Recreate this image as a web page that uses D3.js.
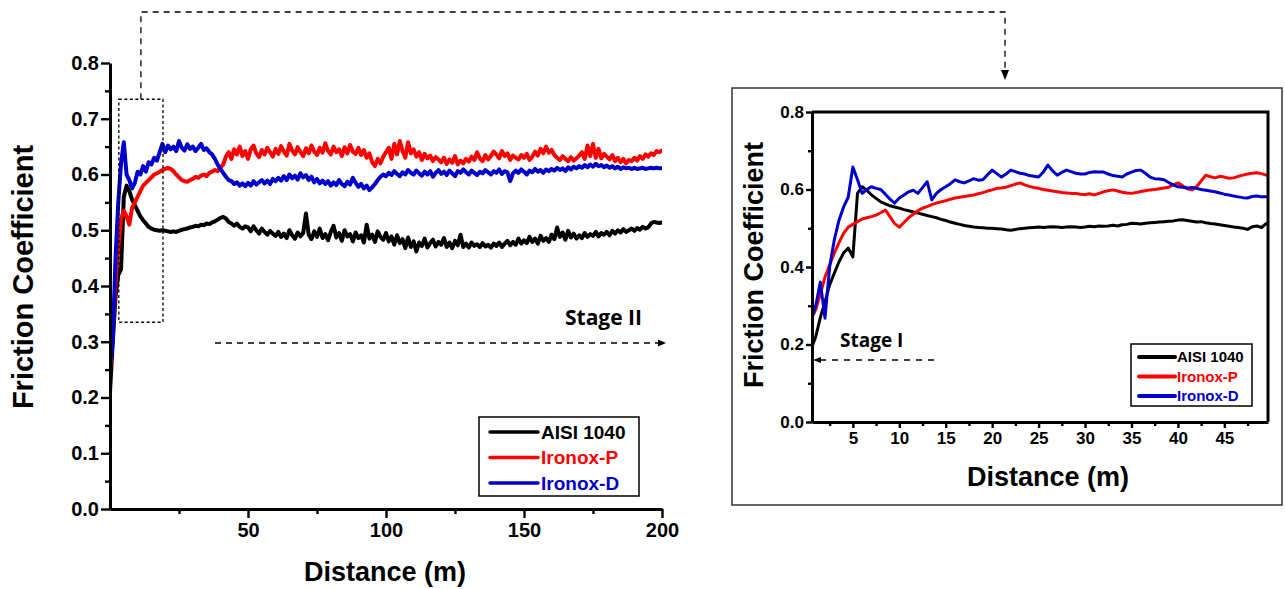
<!DOCTYPE html>
<html>
<head>
<meta charset="utf-8">
<script src="https://cdn.jsdelivr.net/npm/d3@7"></script>
<style>
  html, body { margin: 0; padding: 0; background: #fff; }
  svg { display: block; }
</style>
</head>
<body>
<svg id="fig" width="1285" height="589"></svg>
<script>
// ---- series metadata ----
const seriesNames = ["AISI 1040", "Ironox-P", "Ironox-D"];
const seriesColors = ["#000000", "#ff0000", "#0000cc"];

// ---- full test, friction coefficient every 1 m from 0 to 200 m ----
const mainDist = d3.range(0, 201, 1);
const mainAISI = [
  0.21, 0.30, 0.38, 0.42, 0.43, 0.56, 0.58, 0.57, 0.555, 0.545,
  0.535, 0.525, 0.518, 0.512, 0.506, 0.503, 0.501, 0.500, 0.499, 0.500,
  0.499, 0.498, 0.497, 0.498, 0.497, 0.499, 0.501, 0.502, 0.503, 0.505,
  0.506, 0.508, 0.507, 0.510, 0.509, 0.512, 0.511, 0.514, 0.516, 0.519,
  0.522, 0.524, 0.521, 0.515, 0.512, 0.508, 0.512, 0.506, 0.503, 0.507,
  0.505, 0.498, 0.507, 0.500, 0.494, 0.503, 0.497, 0.492, 0.499, 0.494,
  0.490, 0.497, 0.488, 0.494, 0.486, 0.500, 0.491, 0.485, 0.496, 0.489,
  0.495, 0.530, 0.492, 0.484, 0.498, 0.488, 0.503, 0.486, 0.493, 0.482,
  0.497, 0.508, 0.487, 0.495, 0.481, 0.500, 0.489, 0.493, 0.480, 0.496,
  0.486, 0.491, 0.478, 0.510, 0.485, 0.492, 0.479, 0.498, 0.488, 0.483,
  0.495, 0.480, 0.489, 0.474, 0.491, 0.477, 0.484, 0.468, 0.487, 0.470,
  0.480, 0.462, 0.478, 0.472, 0.485, 0.469, 0.477, 0.483, 0.471, 0.479,
  0.474, 0.486, 0.470, 0.478, 0.468, 0.481, 0.473, 0.492, 0.470, 0.476,
  0.469, 0.478, 0.472, 0.475, 0.470, 0.477, 0.471, 0.474, 0.469, 0.476,
  0.472, 0.478, 0.470, 0.476, 0.481, 0.473, 0.479, 0.474, 0.485, 0.476,
  0.482, 0.477, 0.488, 0.479, 0.485, 0.476, 0.490, 0.481, 0.486, 0.479,
  0.492, 0.484, 0.505, 0.488, 0.496, 0.483, 0.499, 0.487, 0.494, 0.485,
  0.491, 0.486, 0.495, 0.488, 0.493, 0.490, 0.497, 0.489, 0.495, 0.492,
  0.497, 0.491, 0.499, 0.494, 0.500, 0.496, 0.502, 0.497, 0.500, 0.503,
  0.499, 0.504, 0.501, 0.506, 0.503, 0.505, 0.512, 0.515, 0.514, 0.513,
  0.514
];
const mainIronoxP = [
  0.25, 0.32, 0.40, 0.47, 0.52, 0.535, 0.525, 0.51, 0.54, 0.55,
  0.56, 0.57, 0.58, 0.585, 0.59, 0.595, 0.60, 0.602, 0.605, 0.608,
  0.61, 0.612, 0.61, 0.606, 0.60, 0.595, 0.59, 0.588, 0.587, 0.59,
  0.592, 0.596, 0.594, 0.598, 0.600, 0.597, 0.603, 0.605, 0.608, 0.606,
  0.612, 0.618, 0.632, 0.640, 0.628, 0.645, 0.636, 0.650, 0.633, 0.642,
  0.628, 0.645, 0.652, 0.638, 0.631, 0.644, 0.636, 0.648, 0.640, 0.632,
  0.646, 0.637, 0.651, 0.641, 0.634, 0.655, 0.643, 0.636, 0.649, 0.640,
  0.633, 0.647, 0.638, 0.652, 0.641, 0.635, 0.648, 0.639, 0.656, 0.642,
  0.636, 0.650, 0.640, 0.645, 0.633, 0.649, 0.638, 0.653, 0.641, 0.637,
  0.648, 0.635, 0.644, 0.630, 0.638, 0.622, 0.615, 0.628, 0.620, 0.632,
  0.640, 0.648, 0.628, 0.655, 0.636, 0.660, 0.642, 0.630, 0.658, 0.638,
  0.645, 0.632, 0.640, 0.626, 0.637, 0.629, 0.634, 0.624, 0.631, 0.627,
  0.622, 0.630, 0.619, 0.627, 0.621, 0.633, 0.618, 0.625, 0.620, 0.628,
  0.623, 0.632, 0.626, 0.640, 0.629, 0.624, 0.635, 0.627, 0.633, 0.641,
  0.636, 0.629, 0.642, 0.633, 0.638, 0.626, 0.634, 0.630, 0.627, 0.635,
  0.630, 0.637, 0.626, 0.632, 0.641, 0.634, 0.646, 0.638, 0.650, 0.639,
  0.644, 0.635, 0.630, 0.626, 0.633, 0.628, 0.624, 0.631, 0.625, 0.629,
  0.634, 0.640, 0.628, 0.652, 0.633, 0.655, 0.630, 0.646, 0.629, 0.637,
  0.632, 0.627, 0.635, 0.624, 0.630, 0.622, 0.628, 0.620, 0.626, 0.624,
  0.630, 0.625, 0.633, 0.628, 0.636, 0.632, 0.638, 0.635, 0.642, 0.640,
  0.643
];
const mainIronoxD = [
  0.26, 0.30, 0.45, 0.55, 0.62, 0.658, 0.60, 0.59, 0.575, 0.585,
  0.605, 0.60, 0.615, 0.605, 0.622, 0.618, 0.63, 0.625, 0.64, 0.655,
  0.640, 0.652, 0.645, 0.650, 0.642, 0.660, 0.648, 0.643, 0.654, 0.646,
  0.650, 0.642, 0.648, 0.655, 0.644, 0.647, 0.640, 0.636, 0.628, 0.618,
  0.610, 0.603, 0.596, 0.590, 0.588, 0.583, 0.586, 0.580, 0.584, 0.579,
  0.585, 0.580, 0.588, 0.582, 0.586, 0.590, 0.584, 0.589, 0.583, 0.592,
  0.588, 0.594, 0.589, 0.597, 0.590, 0.600, 0.593, 0.598, 0.591, 0.602,
  0.595, 0.599, 0.590, 0.596, 0.586, 0.592, 0.584, 0.589, 0.583, 0.588,
  0.580, 0.586, 0.581, 0.590, 0.583, 0.579, 0.587, 0.582, 0.594, 0.585,
  0.578, 0.583, 0.575, 0.580, 0.572, 0.577, 0.583, 0.590, 0.596, 0.600,
  0.597, 0.603, 0.599, 0.606, 0.601, 0.597, 0.604, 0.600, 0.608, 0.603,
  0.600, 0.607, 0.602, 0.598, 0.605, 0.600, 0.606, 0.596, 0.603, 0.608,
  0.601, 0.605, 0.599, 0.607, 0.602, 0.597, 0.606, 0.603, 0.609, 0.604,
  0.600, 0.607, 0.603, 0.599, 0.605, 0.602, 0.608, 0.604, 0.600, 0.606,
  0.603, 0.609, 0.601, 0.606, 0.604, 0.588, 0.602, 0.607, 0.603, 0.609,
  0.605, 0.600, 0.607, 0.604, 0.610, 0.605, 0.608, 0.603, 0.609, 0.606,
  0.610, 0.607, 0.612, 0.608, 0.611, 0.606, 0.613, 0.609, 0.614, 0.611,
  0.615, 0.612, 0.617, 0.613, 0.618, 0.614, 0.619, 0.615, 0.617, 0.613,
  0.616, 0.612, 0.615, 0.611, 0.614, 0.610, 0.613, 0.611, 0.612, 0.610,
  0.612, 0.610, 0.611, 0.612, 0.610, 0.611, 0.612, 0.611, 0.612, 0.611,
  0.611
];

// ---- first 50 m (stage I), sampled at 0.6 m then every 0.5 m ----
const insetDist = [0.6].concat(d3.range(1, 49.75, 0.5));
const insetAISI = [
  0.194, 0.22, 0.27, 0.31, 0.354, 0.384, 0.413, 0.436, 0.449, 0.426,
  0.59, 0.607, 0.598, 0.586, 0.577, 0.568, 0.563, 0.558, 0.555, 0.552,
  0.548, 0.545, 0.542, 0.539, 0.536, 0.533, 0.530, 0.527, 0.523, 0.520,
  0.516, 0.513, 0.510, 0.507, 0.505, 0.503, 0.502, 0.501, 0.500, 0.500,
  0.499, 0.498, 0.496, 0.495, 0.497, 0.499, 0.500, 0.501, 0.502, 0.503,
  0.502, 0.503, 0.504, 0.503, 0.502, 0.503, 0.504, 0.503, 0.502, 0.503,
  0.505, 0.504, 0.506, 0.505, 0.506, 0.508, 0.506, 0.509, 0.510, 0.513,
  0.512, 0.511, 0.513, 0.514, 0.515, 0.516, 0.517, 0.518, 0.519, 0.521,
  0.522, 0.520, 0.518, 0.516, 0.517, 0.514, 0.512, 0.511, 0.509, 0.507,
  0.505, 0.503, 0.502, 0.500, 0.497, 0.504, 0.506, 0.502, 0.512
];
const insetIronoxP = [
  0.27, 0.29, 0.33, 0.374, 0.405, 0.436, 0.462, 0.487, 0.503, 0.510,
  0.517, 0.524, 0.527, 0.530, 0.534, 0.540, 0.547, 0.530, 0.512, 0.503,
  0.515, 0.527, 0.536, 0.545, 0.552, 0.556, 0.561, 0.565, 0.568, 0.571,
  0.575, 0.578, 0.580, 0.582, 0.584, 0.586, 0.589, 0.592, 0.596, 0.599,
  0.603, 0.604, 0.606, 0.610, 0.614, 0.617, 0.612, 0.608, 0.605, 0.603,
  0.600, 0.598, 0.596, 0.594, 0.592, 0.591, 0.590, 0.590, 0.588, 0.587,
  0.589, 0.586, 0.590, 0.594, 0.597, 0.599, 0.596, 0.593, 0.591, 0.590,
  0.592, 0.595, 0.597, 0.599, 0.600, 0.602, 0.604, 0.606, 0.612, 0.617,
  0.610, 0.602, 0.599, 0.607, 0.622, 0.637, 0.633, 0.630, 0.634, 0.632,
  0.629, 0.630, 0.634, 0.637, 0.640, 0.642, 0.643, 0.641, 0.637
];
const insetIronoxD = [
  0.27, 0.30, 0.361, 0.268, 0.40, 0.47, 0.52, 0.555, 0.58, 0.658,
  0.625, 0.59, 0.60, 0.607, 0.603, 0.600, 0.588, 0.575, 0.565, 0.578,
  0.586, 0.594, 0.598, 0.590, 0.605, 0.620, 0.573, 0.590, 0.600, 0.607,
  0.615, 0.625, 0.620, 0.617, 0.622, 0.628, 0.624, 0.625, 0.638, 0.650,
  0.641, 0.632, 0.640, 0.650, 0.646, 0.642, 0.640, 0.636, 0.634, 0.632,
  0.645, 0.663, 0.648, 0.637, 0.644, 0.650, 0.646, 0.642, 0.640, 0.640,
  0.644, 0.646, 0.645, 0.645, 0.640, 0.636, 0.634, 0.632, 0.640, 0.645,
  0.649, 0.650, 0.642, 0.632, 0.628, 0.627, 0.625, 0.618, 0.612, 0.607,
  0.606, 0.604, 0.605, 0.603, 0.600, 0.598, 0.596, 0.594, 0.591, 0.588,
  0.586, 0.583, 0.581, 0.579, 0.578, 0.582, 0.583, 0.581, 0.581
];

// ---- tick values ----
const mainXTicks = [50, 100, 150, 200];
const mainXMinor = [25, 75, 125, 175];
const mainYTicks = [0, 0.1, 0.2, 0.3, 0.4, 0.5, 0.6, 0.7, 0.8];
const mainYMinor = [0.05, 0.15, 0.25, 0.35, 0.45, 0.55, 0.65, 0.75];
const insetXTicks = [5, 10, 15, 20, 25, 30, 35, 40, 45];
const insetXMinor = [2.5, 7.5, 12.5, 17.5, 22.5, 27.5, 32.5, 37.5, 42.5, 47.5];
const insetYTicks = [0, 0.2, 0.4, 0.6, 0.8];
const insetYMinor = [0.1, 0.3, 0.5, 0.7];

const FONT = "'Liberation Sans', Arial, sans-serif";
const LABEL_FONT = "'Open Sans', 'Liberation Sans', sans-serif";
const svg = d3.select("#fig");

function styleAxis(g, lineW, fontSize) {
  g.select(".domain").attr("stroke", "#000").attr("stroke-width", lineW);
  g.selectAll(".tick line").attr("stroke", "#000").attr("stroke-width", lineW * 0.8);
  g.selectAll(".tick text")
    .attr("font-family", FONT).attr("font-weight", "bold")
    .attr("font-size", fontSize).attr("fill", "#000");
}

function drawPanel(cfg) {
  const x = d3.scaleLinear().domain(cfg.xDomain).range(cfg.xRange);
  const y = d3.scaleLinear().domain([0, 0.8]).range(cfg.yRange);
  const g = svg.append("g");

  const clipId = cfg.id + "-clip";
  g.append("clipPath").attr("id", clipId).append("rect")
    .attr("x", cfg.xRange[0]).attr("y", cfg.yRange[1] - 2)
    .attr("width", cfg.xRange[1] - cfg.xRange[0])
    .attr("height", cfg.yRange[0] - cfg.yRange[1] + 2);

  // data lines
  const line = d3.line()
    .x(d => x(d[0])).y(d => y(d[1]))
    .curve(d3.curveLinear);
  const lg = g.append("g").attr("clip-path", `url(#${clipId})`);
  cfg.series.forEach((vals, i) => {
    const pts = cfg.dist.map((d, k) => [d, vals[k]]).filter(p => p[1] !== undefined);
    lg.append("path").datum(pts)
      .attr("fill", "none").attr("stroke", seriesColors[i])
      .attr("stroke-width", cfg.lineW)
      .attr("stroke-linejoin", "round").attr("stroke-linecap", "round")
      .attr("d", line);
  });

  // frame on top/right for the boxed panel
  if (cfg.boxed) {
    g.append("path")
      .attr("d", `M${cfg.xRange[0]},${cfg.yRange[1]}H${cfg.xRange[1]}V${cfg.yRange[0]}`)
      .attr("fill", "none").attr("stroke", "#000").attr("stroke-width", cfg.axisW);
  }

  // minor ticks
  const gxm = g.append("g").attr("transform", `translate(0,${cfg.yRange[0]})`)
    .call(d3.axisBottom(x).tickValues(cfg.xMinor).tickSize(cfg.minorLen).tickFormat(""));
  gxm.select(".domain").remove();
  styleAxis(gxm, cfg.axisW, cfg.tickFont);
  const gym = g.append("g").attr("transform", `translate(${cfg.xRange[0]},0)`)
    .call(d3.axisLeft(y).tickValues(cfg.yMinor).tickSize(cfg.minorLen).tickFormat(""));
  gym.select(".domain").remove();
  styleAxis(gym, cfg.axisW, cfg.tickFont);

  // major ticks and axis lines
  const gx = g.append("g").attr("transform", `translate(0,${cfg.yRange[0]})`)
    .call(d3.axisBottom(x).tickValues(cfg.xTicks).tickSize(cfg.majorLen)
      .tickSizeOuter(0).tickPadding(cfg.xPad).tickFormat(d3.format("d")));
  styleAxis(gx, cfg.axisW, cfg.tickFont);
  const gy = g.append("g").attr("transform", `translate(${cfg.xRange[0]},0)`)
    .call(d3.axisLeft(y).tickValues(cfg.yTicks).tickSize(cfg.majorLen)
      .tickSizeOuter(0).tickPadding(cfg.yPad).tickFormat(d3.format(".1f")));
  styleAxis(gy, cfg.axisW, cfg.tickFont);

  // axis titles
  g.append("text")
    .attr("x", cfg.xTitle[0]).attr("y", cfg.xTitle[1])
    .attr("text-anchor", "middle")
    .attr("font-family", FONT).attr("font-weight", "bold")
    .attr("font-size", cfg.titleFont).text("Distance (m)");
  g.append("text")
    .attr("transform", `translate(${cfg.yTitle[0]},${cfg.yTitle[1]}) rotate(-90)`)
    .attr("text-anchor", "middle")
    .attr("font-family", FONT).attr("font-weight", "bold")
    .attr("font-size", cfg.yTitleFont).text("Friction Coefficient");

  // legend
  const L = cfg.legend;
  const leg = g.append("g");
  leg.append("rect")
    .attr("x", L.x).attr("y", L.y).attr("width", L.w).attr("height", L.h)
    .attr("fill", "#fff").attr("stroke", "#000").attr("stroke-width", 1.5);
  seriesNames.forEach((name, i) => {
    const yy = L.y + L.first + i * L.gap;
    leg.append("line")
      .attr("x1", L.x + L.lx0).attr("x2", L.x + L.lx1)
      .attr("y1", yy).attr("y2", yy)
      .attr("stroke", seriesColors[i]).attr("stroke-width", L.lineW)
      .attr("stroke-linecap", "round");
    leg.append("text")
      .attr("x", L.x + L.tx).attr("y", yy)
      .attr("dy", "0.36em")
      .attr("font-family", FONT).attr("font-weight", "bold")
      .attr("font-size", L.font).attr("fill", seriesColors[i])
      .text(name);
  });

  return { x, y, g };
}

// outer frame around the stage I panel
svg.append("rect")
  .attr("x", 732).attr("y", 88).attr("width", 550).attr("height", 417)
  .attr("fill", "none").attr("stroke", "#333").attr("stroke-width", 1.5);

const main = drawPanel({
  id: "main",
  dist: mainDist,
  series: [mainAISI, mainIronoxP, mainIronoxD],
  xDomain: [0, 200], xRange: [110, 662], yRange: [509, 63],
  xTicks: mainXTicks, xMinor: mainXMinor, yTicks: mainYTicks, yMinor: mainYMinor,
  lineW: 4, axisW: 3, majorLen: 9, minorLen: 5, tickFont: 20, xPad: 5, yPad: 2,
  titleFont: 27, yTitleFont: 29, boxed: false,
  xTitle: [385, 581], yTitle: [33, 277],
  legend: { x: 479, y: 417, w: 160, h: 79, first: 15, gap: 25.5, lx0: 11, lx1: 59, tx: 62, font: 19, lineW: 3.5 }
});

const inset = drawPanel({
  id: "inset",
  dist: insetDist,
  series: [insetAISI, insetIronoxP, insetIronoxD],
  xDomain: [0.6, 49.7], xRange: [812, 1268], yRange: [422, 112],
  xTicks: insetXTicks, xMinor: insetXMinor, yTicks: insetYTicks, yMinor: insetYMinor,
  lineW: 3, axisW: 3, majorLen: 6, minorLen: 4, tickFont: 17, xPad: 4, yPad: 2,
  titleFont: 27, yTitleFont: 27, boxed: true,
  xTitle: [1048, 486], yTitle: [763, 265],
  legend: { x: 1131, y: 344, w: 121, h: 62, first: 13, gap: 19.5, lx0: 8, lx1: 44, tx: 46, font: 15, lineW: 4 }
});

// ---- annotations ----
const ann = svg.append("g").attr("fill", "none").attr("stroke", "#000");

// dotted window marking the first 50 m on the full-test panel
ann.append("rect")
  .attr("x", main.x(3.2)).attr("y", main.y(0.735))
  .attr("width", main.x(19.2) - main.x(3.2)).attr("height", main.y(0.335) - main.y(0.735))
  .attr("stroke-width", 1.3).attr("stroke-dasharray", "3,2.5");

// dashed connector from the window to the stage I panel
ann.append("path")
  .attr("d", `M${main.x(11.2)},${main.y(0.735)}V12H1005V70`)
  .attr("stroke-width", 1.3).attr("stroke-dasharray", "6,5");
svg.append("path").attr("d", "M1001,70L1009,70L1005,80Z").attr("fill", "#000");

// stage II arrow
ann.append("line")
  .attr("x1", 215).attr("x2", 659).attr("y1", 343).attr("y2", 343)
  .attr("stroke-width", 1.3).attr("stroke-dasharray", "6,5");
svg.append("path").attr("d", "M658,339.5L666,343L658,346.5Z").attr("fill", "#000");
svg.append("text").attr("x", 565).attr("y", 325)
  .attr("font-family", LABEL_FONT).attr("font-weight", "bold").attr("font-size", 21)
  .attr("fill", "#000").text("Stage II");

// stage I arrow
ann.append("line")
  .attr("x1", 820).attr("x2", 937).attr("y1", 360).attr("y2", 360)
  .attr("stroke-width", 1.3).attr("stroke-dasharray", "6,6");
svg.append("path").attr("d", "M821,357L813,360L821,363Z").attr("fill", "#000");
svg.append("text").attr("x", 840).attr("y", 347)
  .attr("font-family", LABEL_FONT).attr("font-weight", "bold").attr("font-size", 19)
  .attr("fill", "#000").text("Stage I");
</script>
</body>
</html>
